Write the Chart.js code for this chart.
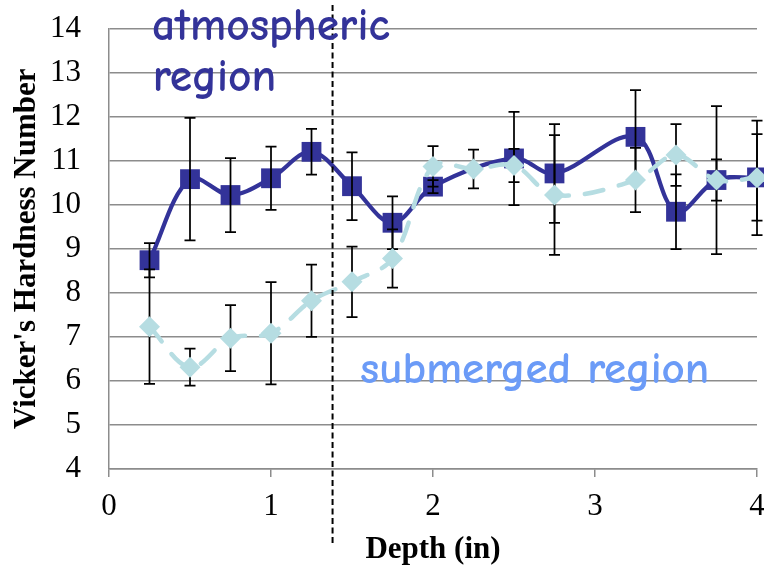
<!DOCTYPE html>
<html>
<head>
<meta charset="utf-8">
<script src="https://cdn.jsdelivr.net/npm/chart.js@4.4.1/dist/chart.umd.min.js"></script>
<style>
html,body{margin:0;padding:0;background:#fff;overflow:hidden;}
#wrap{width:764px;height:566px;position:relative;}
</style>
</head>
<body>
<div id="wrap"><canvas id="c" width="764" height="566"></canvas></div>
<script>
// ---- data ----
const depthAtmo   = [0.25, 0.5, 0.75, 1.0, 1.25, 1.5, 1.75, 2.0, 2.5, 2.75, 3.25, 3.5, 3.75, 4.0];
const hardAtmo    = [8.74, 10.58, 10.22, 10.60, 11.20, 10.42, 9.59, 10.41, 11.05, 10.71, 11.54, 9.84, 10.56, 10.62];
const errAtmo     = [0.39, 1.39, 0.84, 0.72, 0.52, 0.77, 0.60, 0.15, 1.06, 1.12, 1.06, 0.85, 0.47, 0.98];

const depthSub    = [0.25, 0.5, 0.75, 1.0, 1.25, 1.5, 1.75, 2.0, 2.25, 2.5, 2.75, 3.25, 3.5, 3.75, 4.0];
const hardSub     = [7.23, 6.31, 6.97, 7.08, 7.82, 8.25, 8.78, 10.87, 10.81, 10.89, 10.22, 10.56, 11.13, 10.56, 10.61];
const errSub      = [1.30, 0.42, 0.75, 1.16, 0.82, 0.80, 0.66, 0.46, 0.44, 0.38, 1.36, 0.73, 0.70, 1.68, 1.30];

const xTicks = [0, 1, 2, 3, 4];
const yTicks = [4, 5, 6, 7, 8, 9, 10, 11, 12, 13, 14];
const boundaryDepth = 1.38;
const xTitle = 'Depth (in)';
const yTitle = "Vicker's Hardness Number";
const labelAtmo = ['atmospheric', 'region'];
const labelSub = 'submerged region';

const toPts = (xs, ys) => xs.map((x, i) => ({x: x, y: ys[i]}));

const GRID = '#8c8c8c';
const NAVY = '#333399';
const CYAN = '#b6dde2';
const SKY = '#6b9bf7';
const SERIF = "'Liberation Serif','Times New Roman',serif";
const HAND = "'Comic Sans MS','Comic Neue','Open Sans',sans-serif";

const errorBars = {
  id: 'errorBars',
  afterDatasetDraw(chart, args) {
    if (args.index !== 0) return;
    const {ctx, scales: {x, y}} = chart;
    ctx.save();
    ctx.strokeStyle = '#000';
    ctx.lineWidth = 1.75;
    const sets = [[depthAtmo, hardAtmo, errAtmo], [depthSub, hardSub, errSub]];
    sets.forEach(([xs, ys, es]) => {
      xs.forEach((d, i) => {
        const px = x.getPixelForValue(d);
        const yt = y.getPixelForValue(ys[i] + es[i]);
        const yb = y.getPixelForValue(ys[i] - es[i]);
        ctx.beginPath();
        ctx.moveTo(px, yt); ctx.lineTo(px, yb);
        ctx.moveTo(px - 5.5, yt); ctx.lineTo(px + 5.5, yt);
        ctx.moveTo(px - 5.5, yb); ctx.lineTo(px + 5.5, yb);
        ctx.stroke();
      });
    });
    ctx.restore();
  }
};

function fitText(ctx, text, targetW, family, weight) {
  ctx.font = weight + ' 40px ' + family;
  const w = ctx.measureText(text).width;
  return 40 * targetW / w;
}

const annotations = {
  id: 'annotations',
  afterDraw(chart) {
    const {ctx, scales: {x, y}} = chart;
    ctx.save();
    // vertical dashed boundary
    const bx = x.getPixelForValue(boundaryDepth);
    ctx.strokeStyle = '#000';
    ctx.lineWidth = 2;
    ctx.setLineDash([6, 3.5]);
    ctx.beginPath();
    ctx.moveTo(bx, 5);
    ctx.lineTo(bx, 545);
    ctx.stroke();
    ctx.setLineDash([]);
    // region labels
    ctx.textAlign = 'left';
    ctx.textBaseline = 'alphabetic';
    const W = '600';
    const s1 = fitText(ctx, labelAtmo[0], 238, HAND, W);
    ctx.font = W + ' ' + s1.toFixed(1) + 'px ' + HAND;
    ctx.fillStyle = NAVY;
    ctx.fillText(labelAtmo[0], x.getPixelForValue(0.265), y.getPixelForValue(13.74));
    ctx.fillText(labelAtmo[1], x.getPixelForValue(0.27), y.getPixelForValue(12.59));
    const s2 = fitText(ctx, labelSub, 349, HAND, W);
    ctx.font = W + ' ' + s2.toFixed(1) + 'px ' + HAND;
    ctx.fillStyle = SKY;
    ctx.fillText(labelSub, x.getPixelForValue(1.55), y.getPixelForValue(5.96));
    ctx.restore();
  }
};

new Chart(document.getElementById('c'), {
  type: 'line',
  data: {
    datasets: [
      {
        label: 'atmospheric',
        data: toPts(depthAtmo, hardAtmo),
        borderColor: NAVY,
        backgroundColor: NAVY,
        borderWidth: 4.2,
        tension: 0.35,
        pointStyle: 'rect',
        pointRadius: 14,
        pointBorderWidth: 0,
        pointHoverRadius: 14,
        clip: false,
        order: 2
      },
      {
        label: 'submerged',
        data: toPts(depthSub, hardSub),
        borderColor: CYAN,
        backgroundColor: CYAN,
        borderWidth: 4.5,
        borderDash: [19, 16],
        borderCapStyle: 'round',
        tension: 0.35,
        pointStyle: 'rectRot',
        pointRadius: 10.5,
        pointBorderWidth: 0,
        pointHoverRadius: 10.5,
        clip: false,
        order: 1
      }
    ]
  },
  options: {
    responsive: false,
    animation: false,
    events: [],
    layout: {autoPadding: false, padding: {top: 28.5, left: 0, right: 7, bottom: 0}},
    plugins: {legend: {display: false}, tooltip: {enabled: false}},
    scales: {
      x: {
        type: 'linear',
        min: 0, max: 4,
        afterBuildTicks(s) { s.ticks = xTicks.map(v => ({value: v})); },
        afterFit(s) { s.height = 97; s.paddingLeft = 0; s.paddingRight = 0; },
        grid: {display: true, drawOnChartArea: false, drawTicks: true, tickLength: 8, color: GRID, lineWidth: 1.5},
        border: {display: true, color: GRID, width: 1.5},
        ticks: {color: '#000', padding: 11, font: {family: SERIF, size: 31}},
        title: {display: true, text: xTitle, color: '#000', padding: {top: 0, bottom: -3},
                font: {family: SERIF, size: 31, weight: 'bold'}}
      },
      y: {
        min: 4, max: 14,
        afterBuildTicks(s) { s.ticks = yTicks.map(v => ({value: v})); },
        afterFit(s) { s.width = 109; s.paddingTop = 0; s.paddingBottom = 0; },
        grid: {display: true, drawTicks: false, tickLength: 0, color: GRID, lineWidth: 1.5},
        border: {display: true, color: GRID, width: 1.5},
        ticks: {color: '#000', padding: 28, font: {family: SERIF, size: 31}},
        title: {display: true, text: yTitle, color: '#000', padding: {top: 8.5, bottom: 0},
                font: {family: SERIF, size: 31, weight: 'bold'}}
      }
    }
  },
  plugins: [errorBars, annotations]
});
</script>
</body>
</html>
